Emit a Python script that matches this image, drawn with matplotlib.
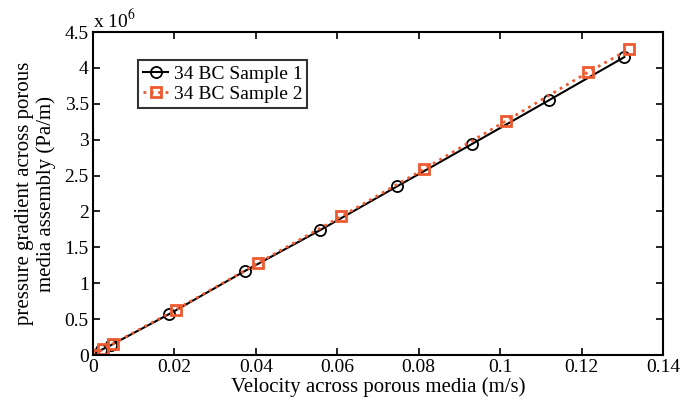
import matplotlib.pyplot as plt
from matplotlib.ticker import FuncFormatter

plt.rcParams['font.family'] = ['Liberation Serif', 'DejaVu Serif']
plt.rcParams['mathtext.fontset'] = 'stix'

# sample 1 (black, circles)
vel1 = [0, 0.002, 0.0045, 0.0187, 0.0373, 0.0558, 0.0747, 0.0931, 0.112, 0.1305]
dp1 = [0, 0.07e6, 0.14e6, 0.57e6, 1.17e6, 1.74e6, 2.35e6, 2.94e6, 3.55e6, 4.15e6]

# sample 2 (orange, squares)
vel2 = [0, 0.0025, 0.005, 0.0203, 0.0405, 0.061, 0.0813, 0.1014, 0.1216, 0.1317]
dp2 = [0, 0.08e6, 0.16e6, 0.63e6, 1.28e6, 1.93e6, 2.59e6, 3.26e6, 3.94e6, 4.26e6]

orange = '#ee5a2f'

fig = plt.figure(figsize=(6.92, 4.08), dpi=100)
ax = fig.add_axes([93/692, 1-355/408, 570/692, 323/408])

ax.plot(vel1, dp1, '-', color='black', lw=1.5, marker='o', ms=8, mfc='none',
        mec='black', mew=1.3, label='34 BC Sample 1')
ax.plot(vel2, dp2, ':', color=orange, lw=2, marker='s', ms=7, mfc='none',
        mec=orange, mew=2, label='34 BC Sample 2')

ax.set_xlim(0, 0.14)
ax.set_ylim(0, 4.5e6)
ax.set_xticks([0, 0.02, 0.04, 0.06, 0.08, 0.1, 0.12, 0.14])
ax.set_xticklabels(['0', '0.02', '0.04', '0.06', '0.08', '0.1', '0.12', '0.14'])
ax.set_yticks([i * 0.5e6 for i in range(10)])
ax.yaxis.set_major_formatter(FuncFormatter(lambda v, p: '%g' % (v / 1e6)))
ax.tick_params(direction='in', top=True, right=True, length=5, width=1.2,
               labelsize=14, pad=3)
for s in ax.spines.values():
    s.set_linewidth(1.5)

ax.text(0, 1.0, r'x 10$^6$', transform=ax.transAxes, fontsize=14,
        ha='left', va='bottom')

ax.set_xlabel('Velocity across porous media (m/s)', fontsize=15, labelpad=1)
ax.set_ylabel('pressure gradient across porous\nmedia assembly (Pa/m)', fontsize=15,
              labelpad=6)

leg = ax.legend(loc='upper left', bbox_to_anchor=(0.079, 0.913), fontsize=14,
                frameon=True, fancybox=False, edgecolor='black',
                handlelength=1.3, handletextpad=0.3, borderpad=0.25,
                labelspacing=0.15, borderaxespad=0)
leg.get_frame().set_linewidth(1.5)

fig.savefig('out.png', dpi=100)
